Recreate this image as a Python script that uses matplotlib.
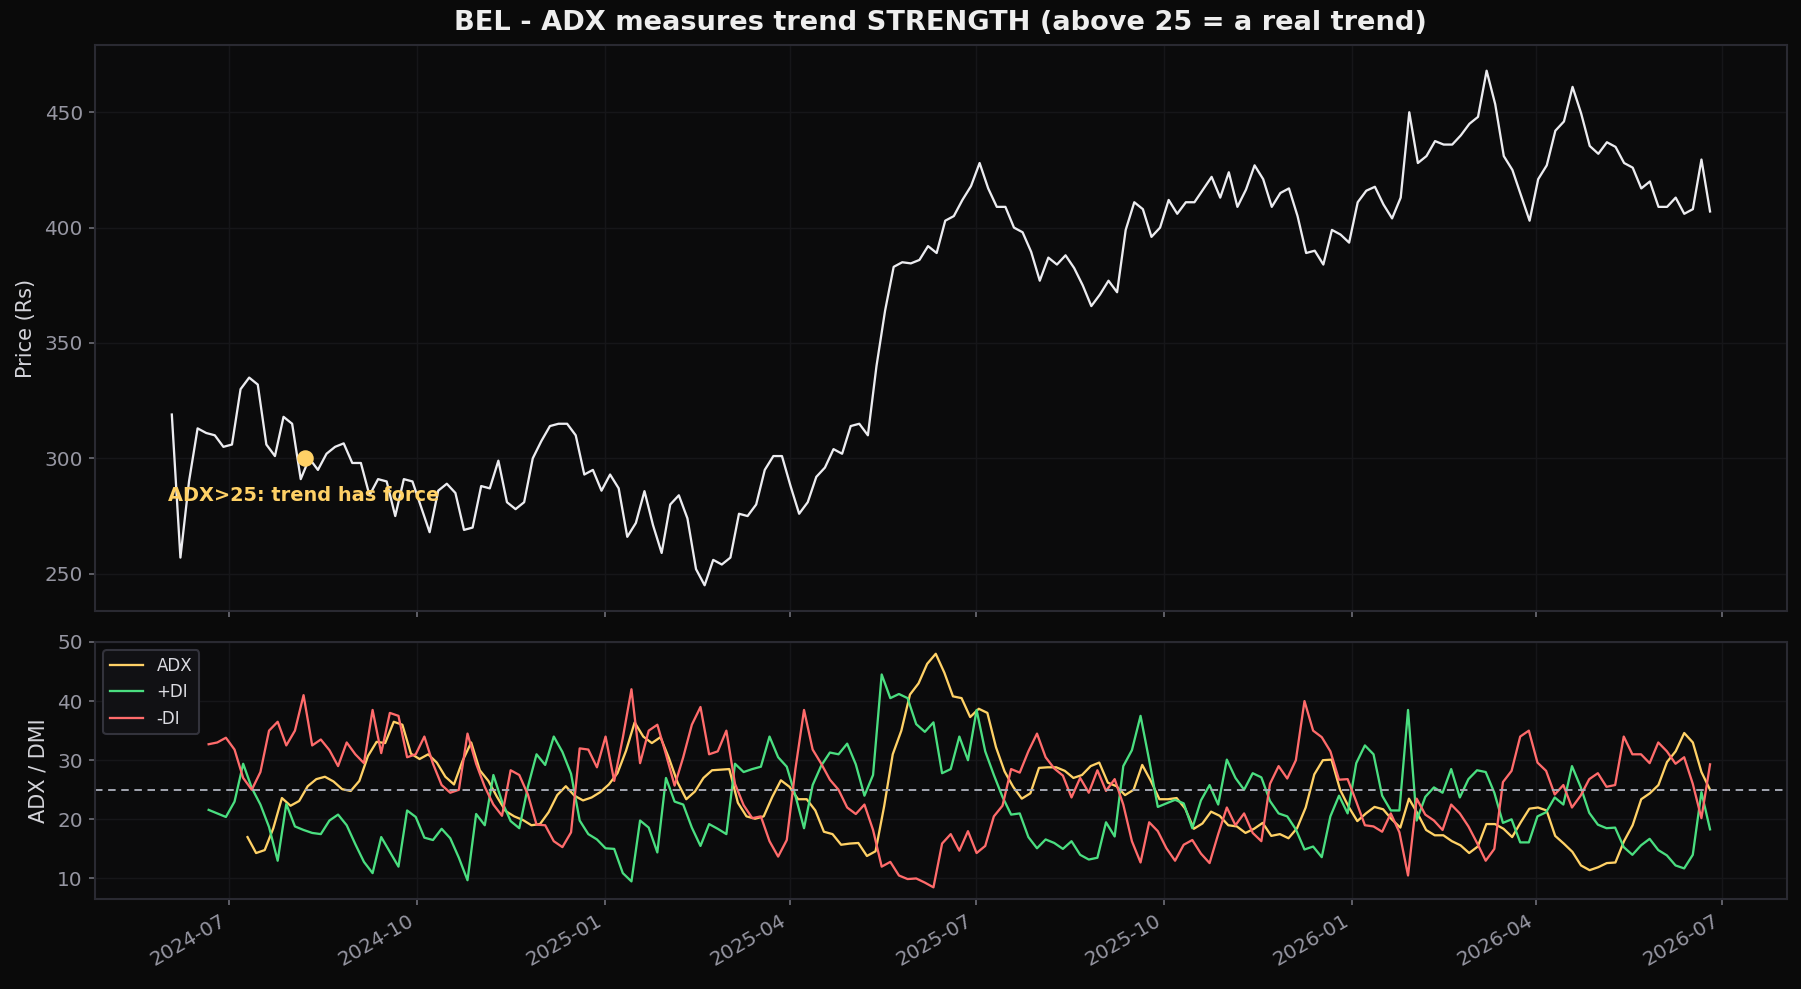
import matplotlib
matplotlib.use("Agg")
import matplotlib.pyplot as plt
import matplotlib.dates as mdates
import pandas as pd

# ---------------- data ----------------
price_start, price_end = "2024-06-03", "2026-06-25"
price = [319, 257, 290, 313, 311, 310, 305, 306, 330, 335,
         332, 306, 301, 318, 315, 291, 300, 295, 302, 305,
         306.5, 298, 298, 284, 291, 290, 275, 291, 290, 279,
         268, 286, 289, 285, 269, 270, 288, 287, 299, 281,
         278, 281,
         300, 307.5, 314, 315, 315, 310, 293, 295, 286, 293,
         287, 266, 272, 285.8, 271, 259, 280, 284, 274, 252,
         245, 256, 254, 257, 276, 275, 280, 295, 301, 301,
         288, 276, 281, 292, 296, 304, 302, 314, 315, 310,
         340, 364, 383, 385, 384.5, 386, 392, 389, 403, 405,
         412, 418, 428, 417, 409, 409, 400, 398, 389.5, 377,
         387, 384, 388, 382.5, 375, 366, 371, 377, 372, 399,
         411, 408, 396, 400, 412, 406, 411, 411, 416.5, 422,
         413, 424, 409, 416.5, 427, 421, 409, 415, 417, 405,
         389, 390, 384, 399, 397, 393.5, 411, 416, 417.7, 410,
         404, 413, 450, 428, 431, 437.5, 436, 436, 440, 445,
         448, 468, 453.5, 431, 425, 414, 403, 421, 427, 442,
         446, 461, 449.5, 435.4, 432, 437, 435, 428, 426, 417,
         420, 409, 409, 413, 406, 408, 429.5, 407]

di_start = "2024-06-21"
plus_di = [21.6, 21.0, 20.4, 23.0, 29.4, 25.3, 22.5, 18.7, 13.0, 22.6,
           18.8, 18.2, 17.7, 17.5, 19.8, 20.8, 19.0, 15.8, 12.8, 10.9,
           17.0, 14.5, 12.0, 21.5, 20.4, 16.9, 16.5, 18.4, 16.8, 13.5,
           9.7, 20.9, 19.0, 27.5, 23.0, 19.7, 18.5, 25.5,
           31.0, 29.2, 34.0, 31.4, 27.7, 19.8, 17.5, 16.6, 15.1, 15.0,
           10.9, 9.5, 19.8, 18.6, 14.4, 27.0, 23.0, 22.5, 18.6, 15.5,
           19.2, 18.4, 17.5, 29.4, 28.0, 28.5, 28.9, 34.0, 30.5, 28.9,
           24.0, 18.5, 25.8, 29.1, 31.3, 31.0, 32.8, 29.3, 24.0, 27.5,
           44.5, 40.5, 41.2, 40.5, 36.1, 34.8, 36.4, 27.8, 28.5, 34.0,
           30.0, 38.5, 31.5, 27.5, 23.8, 20.8, 21.0, 17.0, 15.1, 16.6,
           16.0, 15.0, 16.3, 14.0, 13.2, 13.5, 19.5, 17.1, 29.0, 31.7,
           37.5, 30.0, 22.1, 22.7, 23.3, 22.7, 18.5, 23.2, 25.8, 22.5,
           30.1, 27.0, 25.0, 27.8, 27.1, 23.1, 21.0, 20.5, 18.3, 14.9,
           15.4, 13.6, 20.5, 24.0, 21.0, 29.5, 32.5, 31.0, 24.0,
           21.5, 21.5, 38.5, 19.8, 23.8, 25.4, 24.5, 28.5, 23.7, 26.8,
           28.3, 28.0, 24.5, 19.4, 20.0, 16.1, 16.1, 20.5, 21.2, 23.7,
           22.5, 29.0, 25.5, 21.1, 19.1, 18.5, 18.6, 15.3, 14.0, 15.6,
           16.7, 14.8, 13.9, 12.2, 11.7, 14.0, 24.6, 18.3]
minus_di = [32.7, 33.0, 33.8, 31.8, 27.0, 25.0, 28.0, 35.0, 36.5, 32.5,
            35.0, 41.0, 32.5, 33.5, 31.7, 29.0, 33.0, 31.0, 29.5, 38.5,
            31.2, 38.0, 37.5, 30.5, 31.0, 34.0, 29.4, 25.8, 24.5, 25.0,
            34.5, 29.4, 25.5, 22.5, 20.6, 28.3, 27.5, 24.2,
            19.1, 19.0, 16.3, 15.3, 17.8, 32.0, 31.8, 28.8, 34.0, 26.5,
            33.8, 42.0, 29.5, 35.0, 36.0, 31.0, 25.7, 30.5, 36.0, 39.0,
            31.0, 31.5, 35.0, 26.0, 22.4, 20.2, 20.5, 16.3, 13.7, 16.5,
            28.5, 38.5, 31.8, 29.4, 26.7, 25.0, 22.0, 20.9, 22.5, 18.2,
            12.0, 12.8, 10.5, 9.9, 10.0, 9.3, 8.5, 15.9, 17.5, 14.7,
            18.0, 14.3, 15.5, 20.5, 22.3, 28.5, 27.9, 31.5, 34.5, 30.5,
            28.6, 27.4, 23.7, 27.0, 24.5, 28.3, 24.8, 26.8, 22.5, 16.3,
            12.7, 19.5, 18.0, 15.1, 13.0, 15.7, 16.5, 14.2, 12.6, 17.5,
            22.0, 19.0, 21.0, 17.7, 16.3, 26.0, 29.0, 26.9, 30.0, 40.0,
            35.0, 33.9, 31.5, 26.7, 26.8, 23.0, 19.0, 18.8, 17.9,
            21.0, 17.8, 10.5, 23.5, 20.8, 19.8, 18.2, 22.5, 21.0, 18.8,
            16.0, 13.0, 15.0, 26.3, 28.2, 34.0, 35.0, 29.6, 28.2, 24.2,
            25.8, 22.0, 24.0, 26.8, 27.8, 25.5, 25.8, 34.0, 31.0, 31.0,
            29.5, 33.0, 31.5, 29.4, 30.5, 26.0, 20.2, 29.3]

adx_start = "2024-07-10"
adx = [17.0, 14.3, 14.8, 18.5, 23.6, 22.3, 23.1, 25.6, 26.8, 27.2,
       26.4, 25.1, 24.8, 26.5, 30.7, 33.1, 32.9, 36.5, 36.0, 31.1,
       30.2, 31.0, 29.6, 27.2, 25.9, 29.9, 33.0, 28.3, 26.5, 23.8,
       21.4, 20.5, 19.9,
       19.0, 19.2, 21.2, 24.1, 25.6, 24.0, 23.2, 23.7, 24.6, 25.9,
       27.8, 31.6, 36.4, 34.0, 32.9, 33.9, 30.3, 26.2, 23.4, 24.7,
       27.0, 28.3, 28.4, 28.5, 22.8, 20.5, 20.1, 20.5, 23.8, 26.6,
       25.5, 23.4, 23.4, 21.5, 17.9, 17.5, 15.7, 15.9, 16.0, 13.8,
       14.6, 22.2, 31.0, 35.0, 41.1, 43.0, 46.3, 48.0, 44.8, 40.8,
       40.5, 37.3, 38.7, 38.0, 32.2, 28.1, 25.5, 23.5, 24.4, 28.7,
       28.8, 28.8, 28.2, 27.0, 27.5, 29.0, 29.6, 26.2, 25.6, 24.1,
       25.0, 29.2, 26.5, 23.4, 23.4, 23.6, 21.8, 18.4, 19.3, 21.3,
       20.6, 19.0, 18.8, 17.7, 18.4, 19.4, 17.2, 17.5, 16.8, 18.5,
       22.0, 27.6, 30.0, 30.1, 25.0, 22.1, 19.7, 21.0, 22.1, 21.7,
       20.0, 18.6, 23.5, 21.0, 18.2, 17.3, 17.3, 16.3, 15.6, 14.3,
       15.4, 19.2, 19.2, 18.4, 17.0, 19.5, 21.8, 22.0, 21.5, 17.2,
       15.9, 14.5, 12.2, 11.4, 11.9, 12.6, 12.7, 16.3, 19.0, 23.4,
       24.4, 25.8, 29.7, 31.5, 34.6, 33.0, 28.0, 25.0]

adx_threshold = 25
marker_date, marker_value = "2024-08-07", 300
note_date, note_value = "2024-06-01", 284
note_text = "ADX>25: trend has force"
title = "BEL - ADX measures trend STRENGTH (above 25 = a real trend)"

# ---------------- style ----------------
BG = "#0a0a0a"
AX_BG = "#0b0b0c"
SPINE = "#2a2a32"
GRID = "#161619"
TICK = "#9696a2"
LABEL = "#d4d4da"
WHITE = "#ececf0"
YEL = "#ffd166"
GRN = "#4ade80"
RED = "#ff6b6b"

price_dates = pd.date_range(price_start, price_end, periods=len(price))
di_dates = pd.date_range(di_start, price_end, periods=len(plus_di))
mdi_dates = pd.date_range(di_start, price_end, periods=len(minus_di))
adx_dates = pd.date_range(adx_start, price_end, periods=len(adx))

fig = plt.figure(figsize=(1801 / 150, 989 / 150), dpi=150, facecolor=BG)
ax1 = fig.add_axes([0.0527, 0.3822, 0.9395, 0.5723])
ax2 = fig.add_axes([0.0527, 0.0910, 0.9395, 0.2599], sharex=ax1)

for ax in (ax1, ax2):
    ax.set_facecolor(AX_BG)
    for s in ax.spines.values():
        s.set_color(SPINE)
        s.set_linewidth(1.0)
    ax.grid(True, color=GRID, linewidth=0.7)
    ax.set_axisbelow(True)
    ax.tick_params(colors="#6e6e78", labelcolor=TICK, labelsize=9.6,
                   length=2.8, width=0.8, pad=3)

ax1.plot(price_dates, price, color=WHITE, linewidth=1.1)
ax1.scatter([pd.Timestamp(marker_date)], [marker_value], s=48, color=YEL, zorder=5)
ax1.text(pd.Timestamp(note_date), note_value, note_text, color=YEL,
         fontsize=9.3, fontweight="bold", va="center", ha="left", zorder=6)
ax1.set_ylabel("Price (Rs)", color=LABEL, fontsize=10)
ax1.set_title(title, color="#eeeeee", fontsize=13.1, fontweight="bold", pad=7)
plt.setp(ax1.get_xticklabels(), visible=False)

ax2.plot(adx_dates, adx, color=YEL, linewidth=1.1, label="ADX")
ax2.plot(di_dates, plus_di, color=GRN, linewidth=1.1, label="+DI")
ax2.plot(mdi_dates, minus_di, color=RED, linewidth=1.1, label="-DI")
ax2.axhline(adx_threshold, color="#a9adb8", linestyle=(0, (4, 3)), linewidth=0.9)
ax2.set_ylabel("ADX / DMI", color=LABEL, fontsize=10)
ax2.set_yticks([10, 20, 30, 40, 50])
leg = ax2.legend(loc="upper left", fontsize=8, facecolor="#111114",
                 edgecolor="#33333c", labelcolor="#dcdce2", framealpha=1.0)

ax2.xaxis.set_major_locator(mdates.MonthLocator(bymonth=[1, 4, 7, 10]))
ax2.xaxis.set_major_formatter(mdates.DateFormatter("%Y-%m"))
for lbl in ax2.get_xticklabels():
    lbl.set_rotation(30)
    lbl.set_ha("right")

fig.savefig("out.png", dpi=150, facecolor=BG)
